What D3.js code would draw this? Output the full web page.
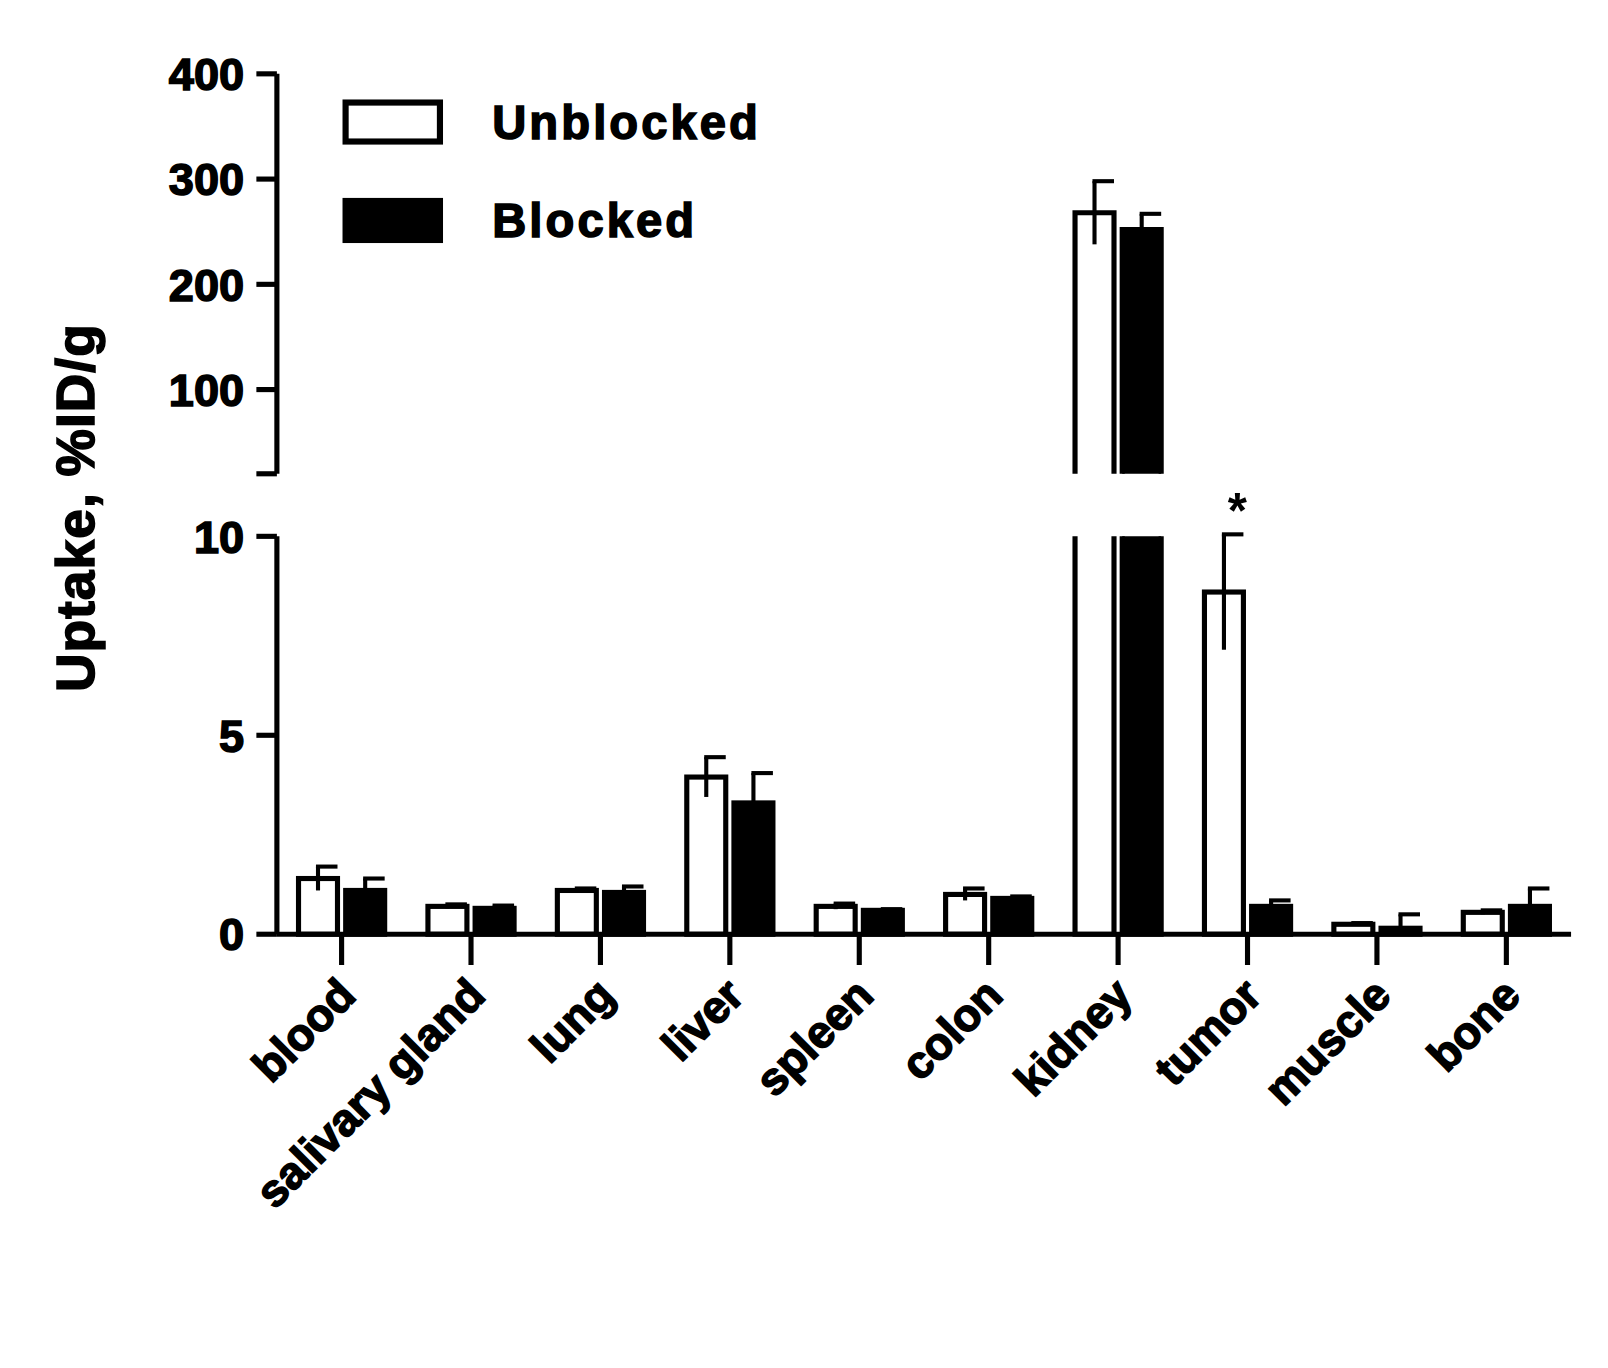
<!DOCTYPE html>
<html>
<head>
<script src="https://d3js.org/d3.v7.min.js"></script>
<style>body{margin:0;background:#fff}text{font-family:"Liberation Sans",Arial,sans-serif;font-weight:bold}</style>
</head>
<body>
<script>
const organs = ["blood","salivary gland","lung","liver","spleen","colon","kidney","tumor","muscle","bone"];
const unblocked = [1.4,0.7,1.1,3.95,0.7,1.0,268,8.6,0.25,0.55];
const unblockedErr = [0.3,0.05,0.05,0.5,0.07,0.15,30,1.45,0.03,0.05];
const blocked = [1.1,0.65,1.05,3.3,0.6,0.9,252,0.7,0.15,0.7];
const blockedErr = [0.3,0.07,0.15,0.75,0.03,0.05,15,0.15,0.35,0.45];
const lowTicks = [0,5,10];
const highTicks = [100,200,300,400];

const root = d3.select("body").append("svg").attr("width",1608).attr("height",1368);
const svg = root.append("g").attr("transform","scale(1.0255)");
const x0 = 270, x1 = 1532;
const yLow = d3.scaleLinear().domain([0,10]).range([911,523]);
const yHigh = d3.scaleLinear().domain([20,400]).range([462,72]);
const x = d3.scaleBand().domain(organs).range([x0,x1]);
const bw = 38, sw = 5, ew = 4;

function vline(g,cx,ya,yb){ g.append("line").attr("x1",cx).attr("x2",cx).attr("y1",ya).attr("y2",yb).attr("stroke","#000").attr("stroke-width",ew); }
function cap(g,cx,yy){ g.append("line").attr("x1",cx-2).attr("x2",cx+bw/2).attr("y1",yy).attr("y2",yy).attr("stroke","#000").attr("stroke-width",ew); }

function drawBar(i, v, e, filled, dx){
  const cx = x(organs[i]) + x.bandwidth()/2 + dx;
  const g = svg.append("g");
  const fill = filled ? "#000" : "#fff";
  const L = cx-bw/2, R = cx+bw/2;
  if (v <= 10){
    g.append("rect").attr("x",L).attr("y",yLow(v)).attr("width",bw).attr("height",yLow(0)-yLow(v))
      .attr("fill",fill).attr("stroke","#000").attr("stroke-width",sw);
    if(!filled) vline(g,cx,yLow(v),yLow(Math.max(v-e,0)));
    vline(g,cx,yLow(v),yLow(v+e)); cap(g,cx,yLow(v+e));
  } else {
    g.append("path").attr("d",`M${L},${yLow(10)}V${yLow(0)}H${R}V${yLow(10)}`)
      .attr("fill",fill).attr("stroke","#000").attr("stroke-width",sw);
    g.append("path").attr("d",`M${L},${yHigh(20)}V${yHigh(v)}H${R}V${yHigh(20)}`)
      .attr("fill",fill).attr("stroke","#000").attr("stroke-width",sw);
    if(!filled) vline(g,cx,yHigh(v),yHigh(v-e));
    vline(g,cx,yHigh(v),yHigh(v+e)); cap(g,cx,yHigh(v+e));
  }
}
organs.forEach((o,i)=>{ drawBar(i,unblocked[i],unblockedErr[i],false,-23); drawBar(i,blocked[i],blockedErr[i],true,23); });

// axes
const ax = svg.append("g").attr("stroke","#000").attr("stroke-width",5);
ax.append("line").attr("x1",x0).attr("x2",x0).attr("y1",yHigh(400)).attr("y2",yHigh(20));
ax.append("line").attr("x1",x0).attr("x2",x0).attr("y1",yLow(10)).attr("y2",yLow(0));
ax.append("line").attr("x1",x0).attr("x2",x1).attr("y1",yLow(0)).attr("y2",yLow(0));
ax.append("line").attr("x1",x0-20).attr("x2",x0).attr("y1",yHigh(20)).attr("y2",yHigh(20));
lowTicks.forEach(t=>{
  ax.append("line").attr("x1",x0-20).attr("x2",x0).attr("y1",yLow(t)).attr("y2",yLow(t));
  svg.append("text").attr("x",x0-32).attr("y",yLow(t)).attr("dy","0.36em").attr("text-anchor","end").attr("font-size",44).attr("stroke","#000").attr("stroke-width",1.5).text(t);
});
highTicks.forEach(t=>{
  ax.append("line").attr("x1",x0-20).attr("x2",x0).attr("y1",yHigh(t)).attr("y2",yHigh(t));
  svg.append("text").attr("x",x0-32).attr("y",yHigh(t)).attr("dy","0.36em").attr("text-anchor","end").attr("font-size",44).attr("stroke","#000").attr("stroke-width",1.5).text(t);
});
organs.forEach(o=>{
  const cx = x(o)+x.bandwidth()/2;
  ax.append("line").attr("x1",cx).attr("x2",cx).attr("y1",yLow(0)).attr("y2",yLow(0)+30);
  svg.append("text").attr("transform",`translate(${cx+16},${yLow(0)+62}) rotate(-45)`)
    .attr("text-anchor","end").attr("font-size",44).attr("stroke","#000").attr("stroke-width",1.5).text(o);
});
svg.append("text").attr("transform","translate(92,495) rotate(-90)").attr("text-anchor","middle")
  .attr("font-size",52).attr("letter-spacing",1).attr("stroke","#000").attr("stroke-width",1.5).text("Uptake, %ID/g");
// significance
const ti = organs.indexOf("tumor");
svg.append("text").attr("x",x(organs[ti])+x.bandwidth()/2-10).attr("y",yLow(10)-8).attr("text-anchor","middle").attr("font-size",48).text("*");

// legend
const leg = [["Unblocked","#fff"],["Blocked","#000"]];
leg.forEach((d,i)=>{
  const yy = 100 + i*96;
  svg.append("rect").attr("x",337).attr("y",yy).attr("width",92).attr("height",38).attr("fill",d[1]).attr("stroke","#000").attr("stroke-width",6);
  svg.append("text").attr("x",480).attr("y",yy+19).attr("dy","0.36em").attr("font-size",46).attr("letter-spacing",3).attr("stroke","#000").attr("stroke-width",1.5).text(d[0]);
});
</script>
</body>
</html>
